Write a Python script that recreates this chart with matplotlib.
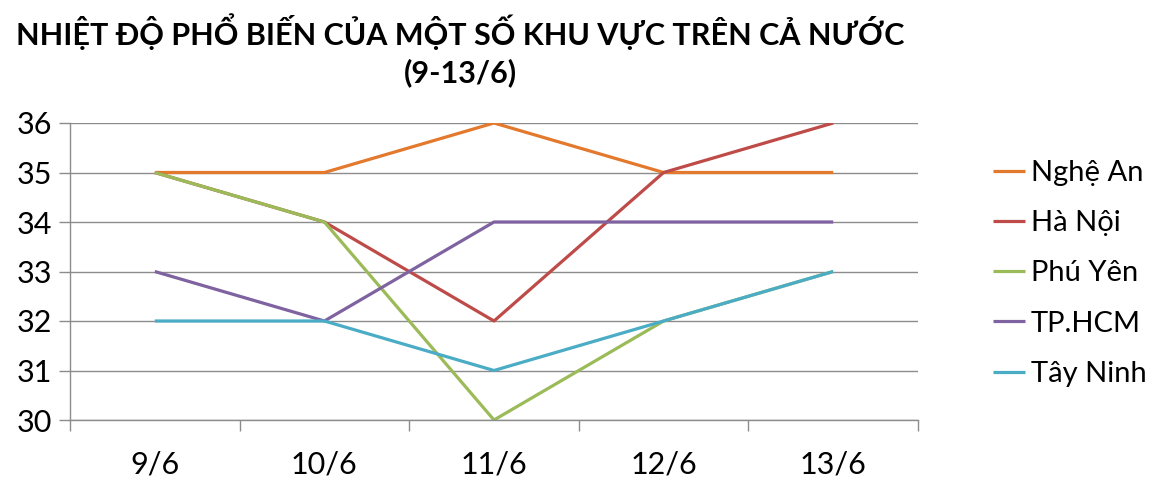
import matplotlib
matplotlib.use("Agg")
import matplotlib.pyplot as plt
import numpy as np

categories = ["9/6", "10/6", "11/6", "12/6", "13/6"]
series_names = ["Nghệ An", "Hà Nội", "Phú Yên", "TP.HCM", "Tây Ninh"]
nghe_an = [35, 35, 36, 35, 35]
ha_noi = [35, 34, 32, 35, 36]
phu_yen = [35, 34, 30, 32, 33]
tp_hcm = [33, 32, 34, 34, 34]
tay_ninh = [32, 32, 31, 32, 33]
y_ticks = [30, 31, 32, 33, 34, 35, 36]
title = "NHIỆT ĐỘ PHỔ BIẾN CỦA MỘT SỐ KHU VỰC TRÊN CẢ NƯỚC\n(9-13/6)"

colors = ["#E3792D", "#BE4B48", "#9BBB59", "#7F62A0", "#4BACC6"]
all_series = [nghe_an, ha_noi, phu_yen, tp_hcm, tay_ninh]

plt.rcParams['font.family'] = ['Lato', 'DejaVu Sans']

fig = plt.figure(figsize=(11.53, 4.87), dpi=100)
ax = fig.add_axes([70/1153, 1-420/487, (918-70)/1153, (420-123)/487])

x = np.arange(len(categories))
for name, vals, c in zip(series_names, all_series, colors):
    ax.plot(x, vals, color=c, lw=2.3, label=name, solid_capstyle='butt')

ax.set_xlim(-0.5, len(categories)-0.5)
ax.set_ylim(30, 36)
ax.set_yticks(y_ticks)
ax.set_yticklabels([str(v) for v in y_ticks], fontsize=22)
ax.yaxis.grid(True, color="#8C8C8C", lw=1)
ax.set_axisbelow(True)

ax.set_xticks(x)
ax.set_xticklabels(categories, fontsize=22)
ax.set_xticks(np.arange(-0.5, len(categories)), minor=True)
ax.tick_params(axis='x', which='major', length=0, pad=22)
ax.tick_params(axis='x', which='minor', length=8, color="#8C8C8C", width=1)
ax.tick_params(axis='y', length=8, color="#8C8C8C", width=1, pad=5)

for s in ['top', 'right']:
    ax.spines[s].set_visible(False)
for s in ['left', 'bottom']:
    ax.spines[s].set_color("#8C8C8C")
    ax.spines[s].set_linewidth(1)

fig.text(460/1153, 1-50/487, title, ha='center', va='center', fontsize=22,
         fontweight='bold', linespacing=1.35,
         family=['Liberation Sans Narrow', 'Lato', 'DejaVu Sans'])

leg = fig.legend(loc='upper left', bbox_to_anchor=(993/1153, 1-160/487),
                 frameon=False, fontsize=21, handlelength=1.1, handletextpad=0.2,
                 labelspacing=0.83, borderpad=0, borderaxespad=0)

fig.savefig("out.png", dpi=100)
